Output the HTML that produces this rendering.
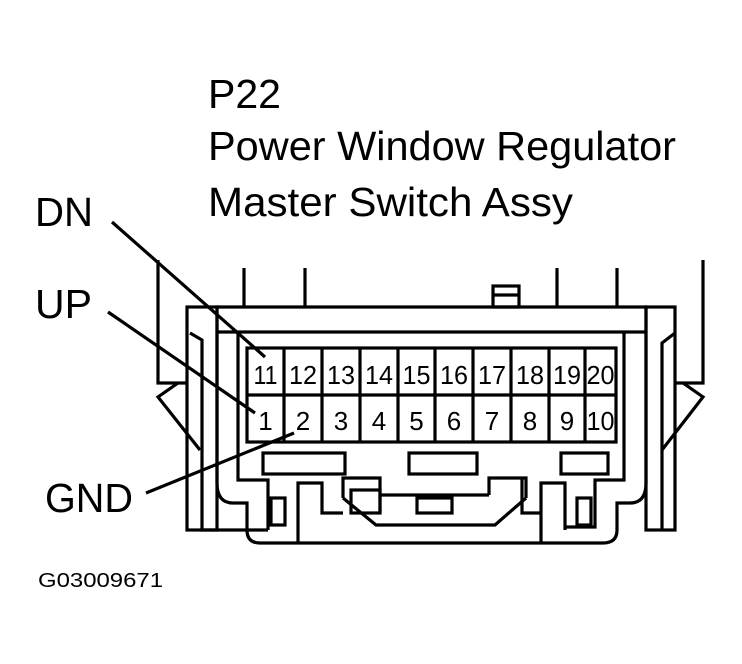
<!DOCTYPE html>
<html><head><meta charset="utf-8"><style>
html,body{margin:0;padding:0;background:#fff;}
svg{display:block;}
text{font-family:"Liberation Sans",Arial,sans-serif;fill:#000;}
</style></head><body>
<svg width="742" height="664" viewBox="0 0 742 664" xmlns="http://www.w3.org/2000/svg">
<rect width="742" height="664" fill="#fff"/>
<g font-size="41">
<text x="208" y="108" textLength="73" lengthAdjust="spacingAndGlyphs">P22</text>
<text x="208" y="160" textLength="468" lengthAdjust="spacingAndGlyphs">Power Window Regulator</text>
<text x="208" y="216" textLength="365" lengthAdjust="spacingAndGlyphs">Master Switch Assy</text>
<text x="35" y="226" textLength="58" lengthAdjust="spacingAndGlyphs">DN</text>
<text x="35" y="318" textLength="57" lengthAdjust="spacingAndGlyphs">UP</text>
<text x="45" y="512" textLength="88" lengthAdjust="spacingAndGlyphs">GND</text>
</g>
<text x="38" y="587" font-size="20" textLength="125" lengthAdjust="spacingAndGlyphs">G03009671</text>

<g fill="none" stroke="#000" stroke-width="3.2" stroke-linejoin="miter">
<line x1="244" y1="268" x2="244" y2="307"/>
<line x1="305" y1="268" x2="305" y2="307"/>
<line x1="557" y1="268" x2="557" y2="307"/>
<line x1="617" y1="268" x2="617" y2="307"/>
<rect x="493" y="286" width="26" height="21"/>
<line x1="493" y1="295" x2="519" y2="295"/>
<polyline points="158,260 158,383 187,383"/>
<polyline points="703,260 703,383 675,383"/>
<polyline points="178,383 158,397 200,450"/>
<polyline points="683,383 703,397 662,450"/>
<rect x="187" y="307" width="30" height="223"/>
<polyline points="190,333 202,340 202,530"/>
<rect x="646" y="307" width="29" height="223"/>
<polyline points="675,333 662,343 662,530"/>
<path d="M217,307 L646,307 L646,483 Q646,503 630,503 L617,503 L617,530 Q617,543 603,543 L260,543 Q247,543 247,530 L247,503 L233,503 Q217,503 217,483 Z"/>
<line x1="217" y1="332" x2="646" y2="332"/>
<polyline points="238,332 238,480 268,480 268,530"/>
<polyline points="624,332 624,480 595,480 595,527 565,527"/>
<line x1="200" y1="530" x2="268" y2="530"/>
<polyline points="298,543 298,483 322,483 322,513 343,513"/>
<rect x="271" y="498" width="14" height="27"/>
<polyline points="541,543 541,483 565,483 565,530"/>
<rect x="577" y="498" width="14" height="27"/>
<polyline points="343,498 343,478 363,478 380,478 380,513"/>
<rect x="351" y="490" width="29" height="23"/>
<line x1="380" y1="495" x2="489" y2="495"/>
<polyline points="489,495 489,478 526,478 526,498"/>
<polyline points="343,498 376,525 495,525 526,498"/>
<polyline points="522,478 522,513 541,513"/>
<rect x="417" y="498" width="35" height="15"/>
<rect x="263" y="453" width="82" height="21"/>
<rect x="409" y="453" width="68" height="21"/>
<rect x="561" y="453" width="47" height="21"/>
<rect x="247" y="348" width="369" height="94"/>
<line x1="247" y1="395" x2="616" y2="395"/>
<line x1="284" y1="348" x2="284" y2="442"/>
<line x1="322" y1="348" x2="322" y2="442"/>
<line x1="360" y1="348" x2="360" y2="442"/>
<line x1="398" y1="348" x2="398" y2="442"/>
<line x1="435" y1="348" x2="435" y2="442"/>
<line x1="473" y1="348" x2="473" y2="442"/>
<line x1="511" y1="348" x2="511" y2="442"/>
<line x1="549" y1="348" x2="549" y2="442"/>
<line x1="585" y1="348" x2="585" y2="442"/>
<line x1="112" y1="222" x2="265" y2="357"/>
<line x1="108" y1="312" x2="255" y2="413"/>
<line x1="146" y1="493" x2="294" y2="433"/>
</g>
<g font-size="26" text-anchor="middle">
<text x="265.5" y="384" textLength="24" lengthAdjust="spacingAndGlyphs">11</text><text x="303" y="384" textLength="28" lengthAdjust="spacingAndGlyphs">12</text><text x="341" y="384" textLength="28" lengthAdjust="spacingAndGlyphs">13</text><text x="379" y="384" textLength="28" lengthAdjust="spacingAndGlyphs">14</text><text x="416.5" y="384" textLength="28" lengthAdjust="spacingAndGlyphs">15</text><text x="454" y="384" textLength="28" lengthAdjust="spacingAndGlyphs">16</text><text x="492" y="384" textLength="28" lengthAdjust="spacingAndGlyphs">17</text><text x="530" y="384" textLength="28" lengthAdjust="spacingAndGlyphs">18</text><text x="567" y="384" textLength="28" lengthAdjust="spacingAndGlyphs">19</text><text x="600.5" y="384" textLength="28" lengthAdjust="spacingAndGlyphs">20</text>
<text x="265.5" y="430">1</text><text x="303" y="430">2</text><text x="341" y="430">3</text><text x="379" y="430">4</text><text x="416.5" y="430">5</text><text x="454" y="430">6</text><text x="492" y="430">7</text><text x="530" y="430">8</text><text x="567" y="430">9</text><text x="600.5" y="430" textLength="28" lengthAdjust="spacingAndGlyphs">10</text>
</g>
</svg>
</body></html>
